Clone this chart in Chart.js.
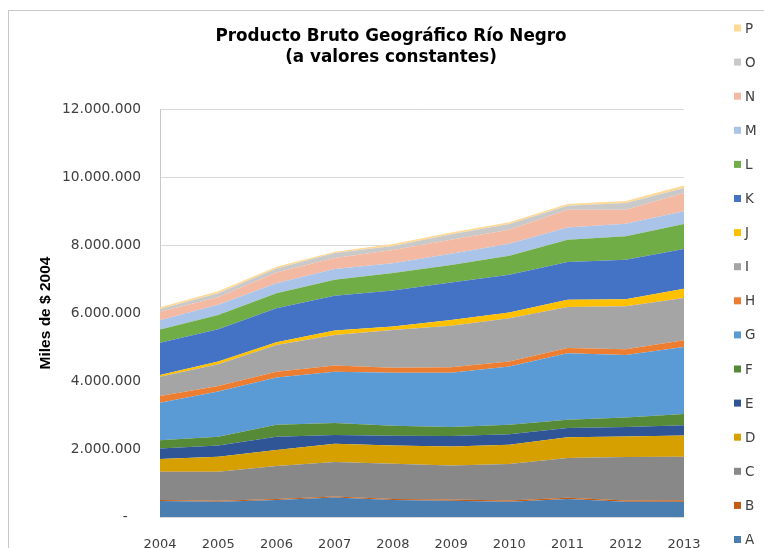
<!DOCTYPE html>
<html>
<head>
<meta charset="utf-8">
<script src="https://cdn.jsdelivr.net/npm/chart.js@4.4.1/dist/chart.umd.min.js"></script>
<style>
  html, body { margin: 0; padding: 0; background: #fff; }
  canvas { display: block; }
</style>
</head>
<body>
<canvas id="chart" width="764" height="548"></canvas>
<script>
const years = ['2004', '2005', '2006', '2007', '2008', '2009', '2010', '2011', '2012', '2013'];

const seriesNames = ['A', 'B', 'C', 'D', 'E', 'F', 'G', 'H', 'I', 'J', 'K', 'L', 'M', 'N', 'O', 'P'];
const seriesColors = ['#4A7EB1', '#C55A11', '#888888', '#D6A000', '#2F5597', '#578A36', '#5B9BD5', '#ED7D31',
    '#A5A5A5', '#FFC000', '#4472C4', '#70AD47', '#A9C4E8', '#F4B9A3', '#C9C9C9', '#FFD996'];

const valuesA = [470000, 450000, 500000, 570000, 500000, 480000, 450000, 530000, 450000, 450000];
const valuesB = [28000, 30000, 32000, 35000, 33000, 34000, 36000, 38000, 37000, 40000];
const valuesC = [830000, 850000, 970000, 1010000, 1030000, 1000000, 1070000, 1170000, 1280000, 1280000];
const valuesD = [380000, 440000, 470000, 540000, 540000, 560000, 570000, 610000, 600000, 630000];
const valuesE = [310000, 330000, 390000, 260000, 290000, 310000, 310000, 270000, 280000, 300000];
const valuesF = [240000, 260000, 350000, 350000, 290000, 260000, 280000, 240000, 280000, 330000];
const valuesG = [1100000, 1330000, 1390000, 1510000, 1560000, 1600000, 1710000, 1960000, 1840000, 1970000];
const valuesH = [200000, 160000, 170000, 180000, 150000, 160000, 150000, 150000, 170000, 200000];
const valuesI = [570000, 640000, 790000, 900000, 1110000, 1220000, 1270000, 1210000, 1260000, 1240000];
const valuesJ = [50000, 80000, 80000, 130000, 100000, 170000, 170000, 210000, 210000, 270000];
const valuesK = [950000, 950000, 1000000, 1020000, 1060000, 1100000, 1110000, 1110000, 1160000, 1170000];
const valuesL = [390000, 420000, 440000, 470000, 510000, 520000, 560000, 660000, 690000, 740000];
const valuesM = [270000, 300000, 290000, 320000, 290000, 330000, 350000, 360000, 370000, 370000];
const valuesN = [250000, 220000, 320000, 320000, 390000, 410000, 410000, 520000, 410000, 540000];
const valuesO = [80000, 120000, 120000, 150000, 120000, 160000, 170000, 120000, 200000, 150000];
const valuesP = [50000, 60000, 50000, 40000, 60000, 50000, 50000, 50000, 60000, 70000];

const seriesValues = [valuesA, valuesB, valuesC, valuesD, valuesE, valuesF, valuesG, valuesH,
    valuesI, valuesJ, valuesK, valuesL, valuesM, valuesN, valuesO, valuesP];

const yTicks = [0, 2000000, 4000000, 6000000, 8000000, 10000000, 12000000];

const titleLines = ['Producto Bruto Geográfico Río Negro', '(a valores constantes)'];

// 12000000 -> "12.000.000", 0 -> "-"
function formatMiles(v) {
    if (v === 0) return '-   ';
    return String(v).replace(/\B(?=(\d{3})+(?!\d))/g, '.');
}

const textColor = '#404040';
const mainFont = 'Verdana, "DejaVu Sans", sans-serif';

// title, outer frame and the legend on the right side
const decorations = {
    id: 'decorations',
    beforeDraw(chart) {
        const ctx = chart.ctx;
        ctx.save();
        ctx.fillStyle = '#fff';
        ctx.fillRect(0, 0, chart.width, chart.height);
        ctx.strokeStyle = '#C8C8C8';
        ctx.lineWidth = 1;
        ctx.strokeRect(8.5, 10.5, chart.width + 20, chart.height + 20);
        ctx.restore();
    },
    afterDraw(chart) {
        const ctx = chart.ctx;
        ctx.save();
        ctx.fillStyle = '#000';
        ctx.font = 'bold 16.8px ' + mainFont;
        ctx.textAlign = 'center';
        ctx.textBaseline = 'middle';
        titleLines.forEach((line, i) => ctx.fillText(line, 391, 37 + i * 21));

        ctx.font = '13.5px ' + mainFont;
        ctx.textAlign = 'left';
        const sets = chart.data.datasets;
        for (let i = sets.length - 1; i >= 0; i--) {
            const row = sets.length - 1 - i;
            const y = 28 + row * 34.1;
            ctx.fillStyle = sets[i].backgroundColor;
            ctx.fillRect(734, y - 3.5, 7, 7);
            ctx.fillStyle = textColor;
            ctx.fillText(sets[i].label, 745, y + 1);
        }
        ctx.restore();
    }
};

const ctx = document.getElementById('chart').getContext('2d');

const chart = new Chart(ctx, {
    type: 'line',
    data: {
        labels: years,
        datasets: seriesNames.map((name, i) => ({
            label: name,
            data: seriesValues[i],
            backgroundColor: seriesColors[i],
            borderColor: seriesColors[i],
            borderWidth: 0,
            pointRadius: 0,
            tension: 0,
            fill: i === 0 ? 'origin' : '-1'
        }))
    },
    options: {
        responsive: false,
        animation: false,
        layout: {
            padding: { top: 109, right: 80, left: 0, bottom: 0 }
        },
        plugins: {
            legend: { display: false },
            title: { display: false },
            tooltip: { enabled: false }
        },
        scales: {
            x: {
                offset: false,
                grid: { display: false },
                border: { display: false },
                ticks: {
                    autoSkip: false,
                    maxRotation: 0,
                    padding: 12,
                    color: textColor,
                    font: { family: mainFont, size: 13 }
                },
                afterFit(scale) { scale.height = 31; }
            },
            y: {
                stacked: true,
                min: 0,
                max: 12000000,
                afterBuildTicks(scale) {
                    scale.ticks = yTicks.map(v => ({ value: v }));
                },
                grid: { color: '#D9D9D9', drawTicks: false },
                border: { display: true, color: '#C8C8C8' },
                ticks: {
                    padding: 19,
                    color: textColor,
                    font: { family: mainFont, size: 13.8 },
                    callback: v => formatMiles(v)
                },
                title: {
                    display: true,
                    text: 'Miles de $ 2004',
                    color: '#000',
                    font: { family: '"Liberation Sans", Arial, sans-serif', size: 15.5, weight: 'bold' },
                    padding: { top: 36, bottom: 0 }
                },
                afterFit(scale) { scale.width = 160; }
            }
        }
    },
    plugins: [decorations]
});
</script>
</body>
</html>
